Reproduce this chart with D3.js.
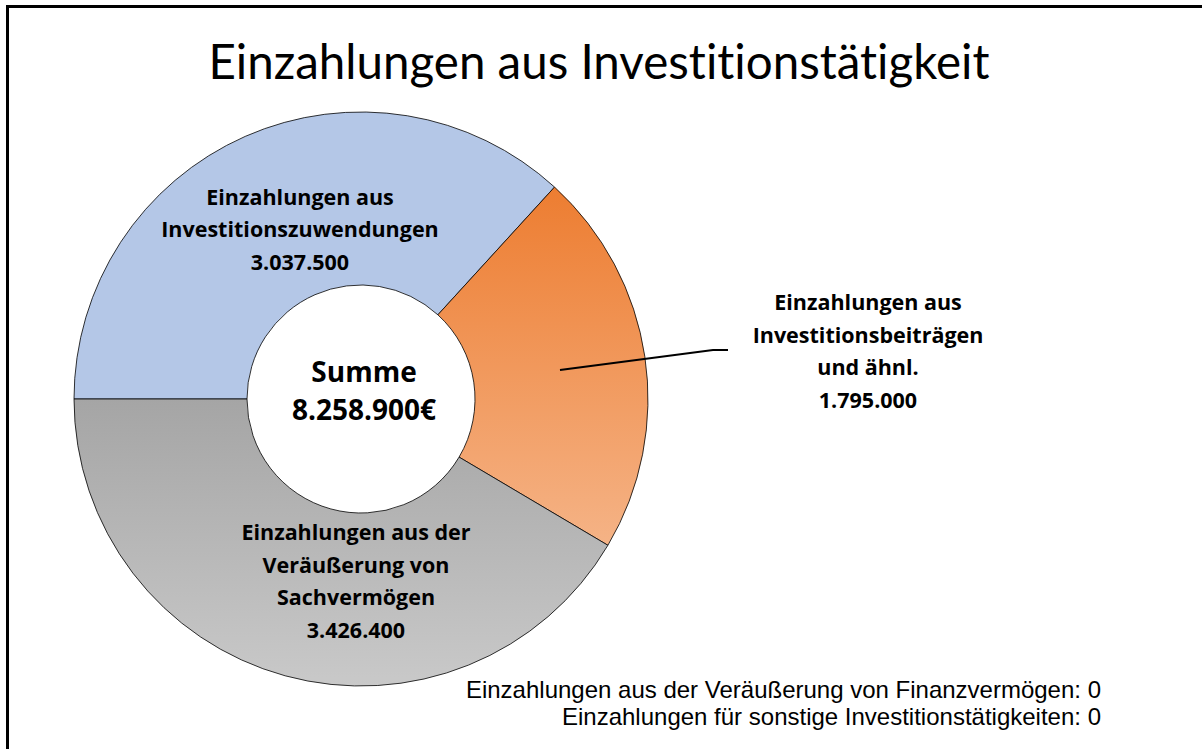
<!DOCTYPE html>
<html>
<head>
<meta charset="utf-8">
<script src="https://cdn.jsdelivr.net/npm/d3@7"></script>
<style>
  body { margin: 0; background: #fff; }
  svg { display: block; }
  text { font-variant-ligatures: none; }
</style>
</head>
<body>
<svg id="chart"></svg>
<script>
// data
const CATEGORIES = [
    "Einzahlungen aus Investitionszuwendungen",
    "Einzahlungen aus Investitionsbeiträgen und ähnl.",
    "Einzahlungen aus der Veräußerung von Sachvermögen",
    "Einzahlungen aus der Veräußerung von Finanzvermögen",
    "Einzahlungen für sonstige Investitionstätigkeiten"
];
const VALUES = [3037500, 1795000, 3426400, 0, 0];
const LABEL_LINES = [
    ["Einzahlungen aus", "Investitionszuwendungen"],
    ["Einzahlungen aus", "Investitionsbeiträgen", "und ähnl."],
    ["Einzahlungen aus der", "Veräußerung von", "Sachvermögen"],
    [],
    []
];
const TITLE = "Einzahlungen aus Investitionstätigkeit";

const WIDTH = 1202;
const HEIGHT = 749;
const CX = 361, CY = 399;
const R_OUT = 287, R_IN = 114;
const LINE_H = 32.5;
const BOLD_FONT = "'Open Sans', Lato, sans-serif";

// where the labels were dragged to (center of the text block)
const LABEL_POS = [[300, 229], [868, 351], [356, 581]];

const fmt = d3.formatLocale({decimal: ",", thousands: ".", grouping: [3], currency: ["", "€"]});
const num = fmt.format(",d");

let svg = d3.select("#chart")
    .attr("width", WIDTH)
    .attr("height", HEIGHT);

let defs = svg.append("defs");
function grad(id, c1, c2) {
    let g = defs.append("linearGradient")
        .attr("id", id)
        .attr("x1", 0).attr("y1", 0)
        .attr("x2", 0).attr("y2", 1);
    g.append("stop").attr("offset", "0%").attr("stop-color", c1);
    g.append("stop").attr("offset", "100%").attr("stop-color", c2);
}
grad("gOrange", "#ed7d31", "#f5b386");
grad("gGray", "#a5a5a5", "#c9c9c9");
const FILLS = ["#b4c7e7", "url(#gOrange)", "url(#gGray)", "#ffc000", "#5b9bd5"];

// frame
svg.append("rect")
    .attr("x", 7.5).attr("y", 6.5)
    .attr("width", WIDTH + 20).attr("height", HEIGHT + 20)
    .style("fill", "none")
    .style("stroke", "#000")
    .style("stroke-width", 3);

svg.append("text")
    .text(TITLE)
    .attr("x", 599)
    .attr("y", 79)
    .attr("font-family", "Lato, 'Open Sans', sans-serif")
    .attr("font-size", "47.5px")
    .attr("fill", "#000")
    .style("text-anchor", "middle");

let pie = d3.pie()
    .sort(null)
    .value(function(d){ return d; })
    .startAngle(-Math.PI / 2)
    .endAngle(Math.PI * 1.5);

let arc = d3.arc()
    .innerRadius(R_IN)
    .outerRadius(R_OUT);

let arcs = pie(VALUES);

let g = svg.append("g")
    .attr("transform", "translate(" + CX + "," + CY + ")");

g.selectAll("path")
    .data(arcs.filter(function(d){ return d.value > 0; }))
    .enter()
    .append("path")
    .attr("d", arc)
    .style("fill", function(d){ return FILLS[d.index]; })
    .style("stroke", "#000")
    .style("stroke-width", 0.8);

// center total
let total = d3.sum(VALUES);
let center = svg.append("text")
    .attr("font-family", BOLD_FONT)
    .attr("font-weight", "bold")
    .attr("font-size", "28px")
    .attr("fill", "#000")
    .style("text-anchor", "middle");
center.append("tspan").attr("x", 364).attr("y", 382).text("Summe");
center.append("tspan").attr("x", 364).attr("y", 420).text(num(total) + "€");

// leader line for orange slice
svg.append("path")
    .attr("d", d3.line()([[560, 370], [713, 350], [728, 350]]))
    .style("fill", "none")
    .style("stroke", "#000")
    .style("stroke-width", 2);

// slice labels
arcs.forEach(function(d, i) {
    if (d.value <= 0) return;
    let lines = LABEL_LINES[i].concat([num(d.value)]);
    let p = LABEL_POS[i];
    let y0 = p[1] - (lines.length - 1) * LINE_H / 2;
    let t = svg.append("text")
        .attr("font-family", BOLD_FONT)
        .attr("font-weight", "bold")
        .attr("font-size", "21.5px")
        .attr("fill", "#000")
        .style("text-anchor", "middle");
    lines.forEach(function(s, k) {
        t.append("tspan")
            .attr("x", p[0])
            .attr("y", y0 + k * LINE_H + 8)
            .text(s);
    });
});

// zero-valued categories as notes at the bottom right
let zeros = arcs.filter(function(d){ return d.value === 0; });
svg.selectAll("text.zero")
    .data(zeros)
    .enter()
    .append("text")
    .attr("class", "zero")
    .text(function(d){ return CATEGORIES[d.index] + ": " + num(d.value); })
    .attr("x", 1101)
    .attr("y", function(d, i){ return 698 + i * 27; })
    .attr("font-family", "'Liberation Sans', Arial, sans-serif")
    .attr("font-size", "24px")
    .attr("fill", "#000")
    .style("text-anchor", "end");
</script>
</body>
</html>
